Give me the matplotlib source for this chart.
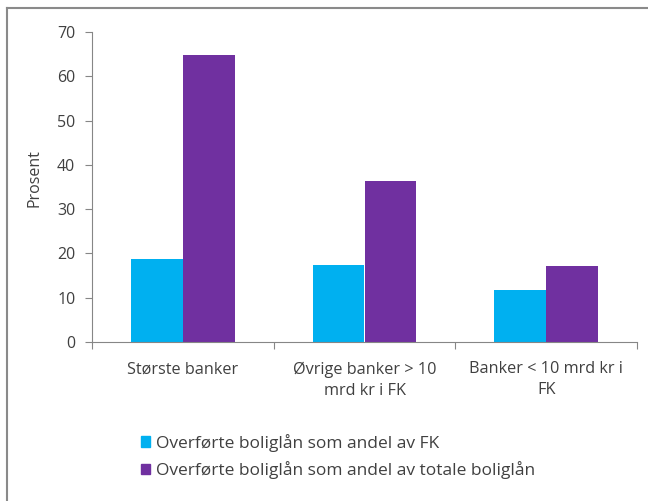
import matplotlib.pyplot as plt
from matplotlib.patches import Patch
import numpy as np

categories = ['Største banker', 'Øvrige banker > 10\nmrd kr i FK', 'Banker < 10 mrd kr i\nFK']
andel_fk = [18.7, 17.4, 11.7]
andel_totale = [64.8, 36.3, 17.1]
series_names = ['Overførte boliglån som andel av FK',
                'Overførte boliglån som andel av totale boliglån']
colors = ['#00B0F0', '#7030A0']
yticks = [0, 10, 20, 30, 40, 50, 60, 70]

plt.rcParams['font.family'] = ['Open Sans', 'DejaVu Sans']
axis_grey = '#868686'
text_col = '#404040'

fig = plt.figure(figsize=(6.48, 5.01), dpi=100)
ax = fig.add_axes([92/648, 1-342/501, (637-92)/648, (342-32)/501])

x = np.arange(len(categories))
w = 0.286
ax.bar(x - w/2, andel_fk, width=w, color=colors[0])
ax.bar(x + w/2, andel_totale, width=w, color=colors[1])

ax.set_xlim(-0.5, len(categories) - 0.5)
ax.set_ylim(0, 70)
ax.set_yticks(yticks)
ax.set_xticks(np.arange(len(categories) + 1) - 0.5)
ax.set_xticklabels([])
ax.set_xticks(x, minor=True)
ax.set_xticklabels(categories, minor=True, fontsize=11.7, color=text_col, linespacing=1.4)
ax.tick_params(axis='x', which='minor', length=0, pad=14)
ax.tick_params(axis='x', which='major', length=5, color=axis_grey, direction='out')
ax.tick_params(axis='y', length=5, color=axis_grey, labelsize=11.5, labelcolor=text_col, pad=7)

for s in ['top', 'right']:
    ax.spines[s].set_visible(False)
for s in ['left', 'bottom']:
    ax.spines[s].set_color(axis_grey)
ax.set_ylabel('Prosent', fontsize=11.5, color=text_col)
ax.yaxis.set_label_coords(-0.09, 0.53)

handles = [Patch(color=c, label=n) for c, n in zip(colors, series_names)]
fig.legend(handles=handles, loc='upper left', bbox_to_anchor=(125/648, 1-418/501),
           frameon=False, fontsize=12.5, labelcolor=text_col, handlelength=0.55,
           handleheight=0.55, handletextpad=0.35, labelspacing=0.55)

# outer frame
fig.add_artist(plt.Line2D([6.5/648, 6.5/648], [0, 1-7.5/501], transform=fig.transFigure,
                          color='#8a8a8a', lw=1.5))
fig.add_artist(plt.Line2D([6.5/648, 1], [1-7.5/501, 1-7.5/501], transform=fig.transFigure,
                          color='#8a8a8a', lw=1.5))

fig.savefig('out.png', dpi=100)
